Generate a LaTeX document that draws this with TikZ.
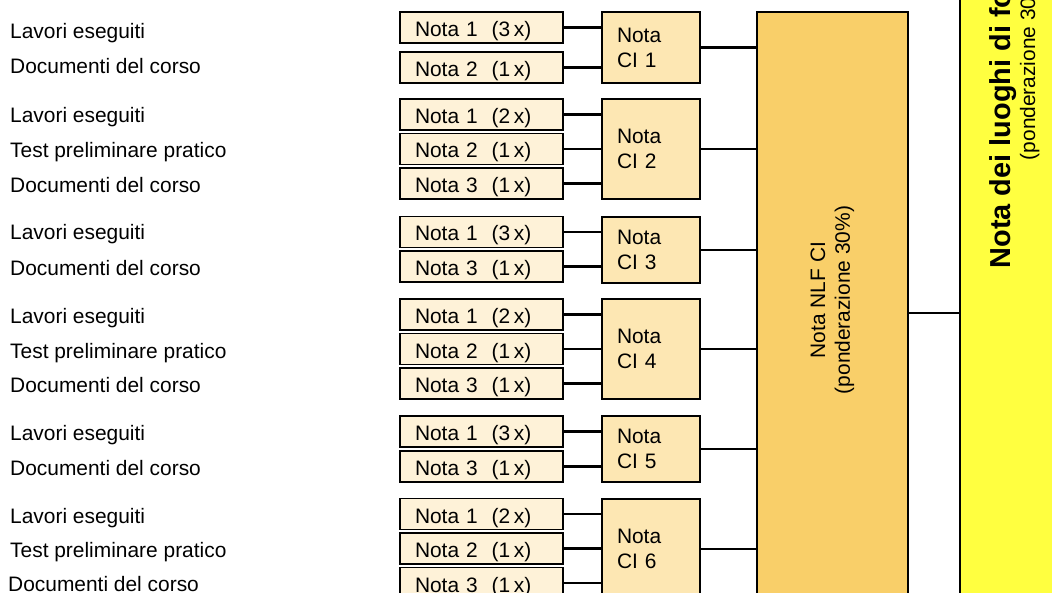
\documentclass[tikz,border=0pt]{standalone}
\usepackage{fontspec}
\setmainfont{Liberation Sans}
\definecolor{notefill}{HTML}{FEF2D8}
\definecolor{cifill}{HTML}{FDE7B3}
\definecolor{nlffill}{HTML}{F9CF69}
\definecolor{lffill}{HTML}{FFFF40}

\tikzset{
  SrcStyle/.style = {anchor=west,inner sep=0pt,text height=15bp,text depth=0pt},
  NoteStyle/.style = {draw=black,line width=1.2bp,fill=notefill,minimum height=31bp,
                      text width=133bp,inner xsep=15bp,inner ysep=0pt,
                      text height=22bp,text depth=4bp,align=left},
  CIStyle/.style = {draw=black,line width=2.2bp,fill=cifill,text width=68bp,
                    inner xsep=15bp,inner ysep=0pt,align=left},
  EdgeStyle/.style = {line width=2.2bp}
}

\begin{document}
\begin{tikzpicture}[x=1bp,y=-1bp,font=\fontsize{21}{25}\selectfont]
  \useasboundingbox (0,0) rectangle (1052,593);
  \clip (0,0) rectangle (1052,593);
  % final boxes
  \node[draw=black,line width=2.4bp,fill=lffill,minimum width=112bp,minimum height=1100bp,inner sep=0pt]
    (lf) at (1016,66) {\rotatebox{90}{\begin{tabular}{@{}c@{}}
      \fontsize{29}{26}\selectfont\bfseries Nota dei luoghi di formazione\\
      \fontsize{21}{26}\selectfont (ponderazione 30\%)\end{tabular}}};
  \node[draw=black,line width=2.2bp,fill=nlffill,minimum width=151bp,minimum height=590bp,inner sep=0pt]
    (nlf) at (832.5,307) {\rotatebox{90}{\hspace{14bp}\begin{tabular}{@{}c@{}}
      Nota NLF CI\\(ponderazione 30\%)\end{tabular}}};
  \coordinate (lk) at (0,313);
  \draw[EdgeStyle] (nlf.east |- lk) -- (lf.west |- lk);
  % CI 1
  \node[SrcStyle] (l11) at (10,31.5) {Lavori eseguiti};
  \node[SrcStyle] (l12) at (10,66) {Documenti del corso};
  \node[NoteStyle] (g11) at (481.5,27.5) {Nota 1~~(3\,x)};
  \node[NoteStyle] (g12) at (481.5,67.5) {Nota 2~~(1\,x)};
  \node[CIStyle,minimum height=71bp] (ci1) at (651,47.5) {Nota\\CI 1};
  \draw[EdgeStyle] (g11.east) -- (g11.east -| ci1.west);
  \draw[EdgeStyle] (g12.east) -- (g12.east -| ci1.west);
  \draw[EdgeStyle] (ci1.east) -- (ci1.east -| nlf.west);
  % CI 2
  \node[SrcStyle] (l21) at (10,115.5) {Lavori eseguiti};
  \node[SrcStyle] (l22) at (10,150.5) {Test preliminare pratico};
  \node[SrcStyle] (l23) at (10,185) {Documenti del corso};
  \node[NoteStyle] (g21) at (481.5,114.5) {Nota 1~~(2\,x)};
  \node[NoteStyle] (g22) at (481.5,149) {Nota 2~~(1\,x)};
  \node[NoteStyle] (g23) at (481.5,183.5) {Nota 3~~(1\,x)};
  \node[CIStyle,minimum height=100bp] (ci2) at (651,149) {Nota\\CI 2};
  \draw[EdgeStyle] (g21.east) -- (g21.east -| ci2.west);
  \draw[EdgeStyle] (g22.east) -- (g22.east -| ci2.west);
  \draw[EdgeStyle] (g23.east) -- (g23.east -| ci2.west);
  \draw[EdgeStyle] (ci2.east) -- (ci2.east -| nlf.west);
  % CI 3
  \node[SrcStyle] (l31) at (10,232.5) {Lavori eseguiti};
  \node[SrcStyle] (l32) at (10,268) {Documenti del corso};
  \node[NoteStyle] (g31) at (481.5,232) {Nota 1~~(3\,x)};
  \node[NoteStyle] (g32) at (481.5,266.5) {Nota 3~~(1\,x)};
  \node[CIStyle,minimum height=66bp] (ci3) at (651,250) {Nota\\CI 3};
  \draw[EdgeStyle] (g31.east) -- (g31.east -| ci3.west);
  \draw[EdgeStyle] (g32.east) -- (g32.east -| ci3.west);
  \draw[EdgeStyle] (ci3.east) -- (ci3.east -| nlf.west);
  % CI 4
  \node[SrcStyle] (l41) at (10,315.5) {Lavori eseguiti};
  \node[SrcStyle] (l42) at (10,350.5) {Test preliminare pratico};
  \node[SrcStyle] (l43) at (10,384.5) {Documenti del corso};
  \node[NoteStyle] (g41) at (481.5,314.5) {Nota 1~~(2\,x)};
  \node[NoteStyle] (g42) at (481.5,349) {Nota 2~~(1\,x)};
  \node[NoteStyle] (g43) at (481.5,383.5) {Nota 3~~(1\,x)};
  \node[CIStyle,minimum height=100bp] (ci4) at (651,349) {Nota\\CI 4};
  \draw[EdgeStyle] (g41.east) -- (g41.east -| ci4.west);
  \draw[EdgeStyle] (g42.east) -- (g42.east -| ci4.west);
  \draw[EdgeStyle] (g43.east) -- (g43.east -| ci4.west);
  \draw[EdgeStyle] (ci4.east) -- (ci4.east -| nlf.west);
  % CI 5
  \node[SrcStyle] (l51) at (10,432.5) {Lavori eseguiti};
  \node[SrcStyle] (l52) at (10,467.5) {Documenti del corso};
  \node[NoteStyle] (g51) at (481.5,431.5) {Nota 1~~(3\,x)};
  \node[NoteStyle] (g52) at (481.5,466.5) {Nota 3~~(1\,x)};
  \node[CIStyle,minimum height=66bp] (ci5) at (651,449) {Nota\\CI 5};
  \draw[EdgeStyle] (g51.east) -- (g51.east -| ci5.west);
  \draw[EdgeStyle] (g52.east) -- (g52.east -| ci5.west);
  \draw[EdgeStyle] (ci5.east) -- (ci5.east -| nlf.west);
  % CI 6
  \node[SrcStyle] (l61) at (10,515.5) {Lavori eseguiti};
  \node[SrcStyle] (l62) at (10,549.5) {Test preliminare pratico};
  \node[SrcStyle] (l63) at (8,583.5) {Documenti del corso};
  \node[NoteStyle] (g61) at (481.5,514) {Nota 1~~(2\,x)};
  \node[NoteStyle] (g62) at (481.5,548.5) {Nota 2~~(1\,x)};
  \node[NoteStyle] (g63) at (481.5,583) {Nota 3~~(1\,x)};
  \node[CIStyle,minimum height=100bp] (ci6) at (651,549) {Nota\\CI 6};
  \draw[EdgeStyle] (g61.east) -- (g61.east -| ci6.west);
  \draw[EdgeStyle] (g62.east) -- (g62.east -| ci6.west);
  \draw[EdgeStyle] (g63.east) -- (g63.east -| ci6.west);
  \draw[EdgeStyle] (ci6.east) -- (ci6.east -| nlf.west);
\end{tikzpicture}
\end{document}
